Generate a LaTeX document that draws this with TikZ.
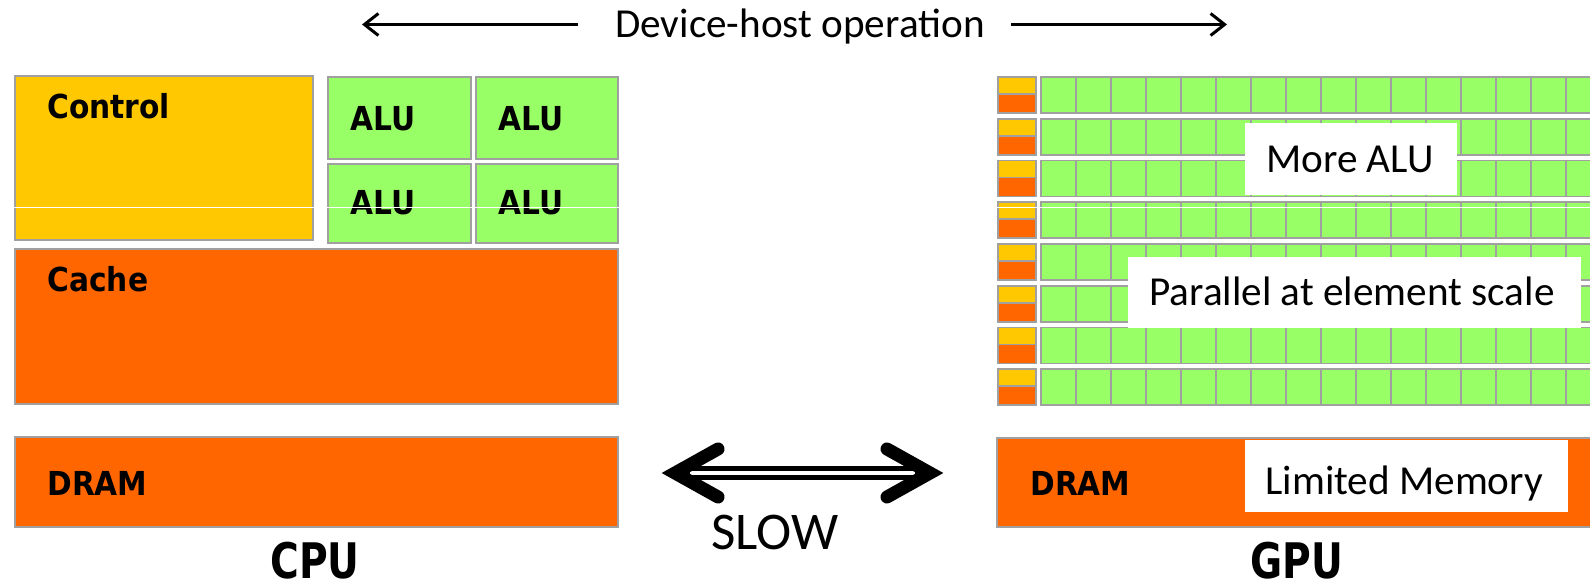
\documentclass[tikz,border=0pt]{standalone}
\usepackage{fontspec}
\setmainfont{Carlito}
\newfontfamily\lblfont[FakeStretch=0.9]{DejaVu Sans}
\newfontfamily\bigfont[FakeStretch=0.8]{DejaVu Sans}
\usetikzlibrary{arrows.meta}
\definecolor{ctrl}{HTML}{FFC800}
\definecolor{alu}{HTML}{99FF66}
\definecolor{mem}{HTML}{FF6600}
\definecolor{bord}{HTML}{A0A0A0}
\begin{document}
\begin{tikzpicture}[x=0.5pt,y=-0.5pt,
  blk/.style={draw=bord, line width=0.8pt},
  lbl/.style={font=\lblfont\bfseries\fontsize{16.5}{18}\selectfont, anchor=base west, inner sep=0},
  big/.style={font=\bigfont\bfseries\fontsize{24.5}{26}\selectfont, anchor=base, inner sep=0},
  txt/.style={font=\fontsize{20.6}{24}\selectfont, anchor=base west, inner sep=0},
  wbox/.style={fill=white},
  thinarr/.style={line width=1.5pt, -{Straight Barb[length=7pt,width=11pt,line width=1.5pt]}},
]
\useasboundingbox (0,0) rectangle (1590,581);
\clip (0,0) rectangle (1590,581);

% ---------- CPU ----------
\draw[blk, fill=ctrl] (15,76) rectangle (313,240);
\draw[blk, fill=alu] (328,77) rectangle (471,159);
\draw[blk, fill=alu] (476,77) rectangle (618,159);
\draw[blk, fill=alu] (328,164) rectangle (471,243);
\draw[blk, fill=alu] (476,164) rectangle (618,243);
\draw[blk, fill=mem] (15,249) rectangle (618,404);
\draw[blk, fill=mem] (15,437) rectangle (618,527);

\node[lbl] (tctrl) at (47,119) {Control};
\node[lbl] (ta1) at (350,131) {ALU};
\node[lbl] (ta2) at (498,131) {ALU};
\node[lbl] (ta3) at (350,215) {ALU};
\node[lbl] (ta4) at (498,215) {ALU};
\node[lbl] (tcache) at (47,292) {Cache};
\node[lbl] (tdram1) at (47,496) {DRAM};
\node[big] (tcpu) at (315,579) {CPU};

% ---------- GPU ----------
\foreach \i in {0,...,7}{
  \pgfmathsetmacro\t{77+41.75*\i}
  \pgfmathsetmacro\m{\t+17}
  \pgfmathsetmacro\b{\t+36}
  \draw[blk, fill=mem] (998,\t) rectangle (1036,\b);
  \draw[blk, fill=ctrl] (998,\t) rectangle (1036,\m);
  \draw[blk, fill=alu] (1041,\t) rectangle (1600,\b);
  \foreach \k in {1,...,16}{
    \draw[bord, line width=0.8pt] ({1041+35*\k},\t) -- ({1041+35*\k},\b);
  }
}
\draw[blk, fill=mem] (997,438) rectangle (1600,527);
\node[lbl] (tdram2) at (1030,496) {DRAM};
\node[big] (tgpu) at (1297,579) {GPU};

% scan line artefact
\draw[white, line width=0.5pt] (0,208) -- (1590,208);

% ---------- white labels ----------
\fill[wbox] (1245,123) rectangle (1457,195);
\node[txt] (tmore) at (1266,173) {More ALU};
\fill[wbox] (1128,257) rectangle (1581,328);
\node[txt] (tpar) at (1149,306) {Parallel at element scale};
\fill[wbox] (1245,440) rectangle (1568,512);
\node[txt] (tlim) at (1265,495) {Limited Memory};

% ---------- top arrow ----------
\node[font=\fontsize{20.6}{24}\selectfont, anchor=base, inner sep=0] (dh) at (800,37.5) {Device-host operation};
\coordinate (tl) at (362,24.5);
\coordinate (tr) at (1227,24.5);
\coordinate (tls) at (578,24.5);
\coordinate (trs) at (1011,24.5);
\draw[thinarr] (tls) -- (tl);
\draw[thinarr] (trs) -- (tr);

% ---------- SLOW double arrow ----------
\coordinate (sl) at (675,473);
\coordinate (sr) at (930,473);
\draw[line width=7pt] (686,473) -- (919,473);
\draw[white, line width=2pt] (690,473) -- (915,473);
\draw[line width=6.5pt, line cap=round, line join=miter] (718,449) -- (sl) -- (718,497);
\draw[line width=6.5pt, line cap=round, line join=miter] (887,449) -- (sr) -- (887,497);
\node[font=\fontsize{26.5}{30}\selectfont, anchor=base, inner sep=0] (slow) at (775,550) {SLOW};
\end{tikzpicture}
\end{document}
